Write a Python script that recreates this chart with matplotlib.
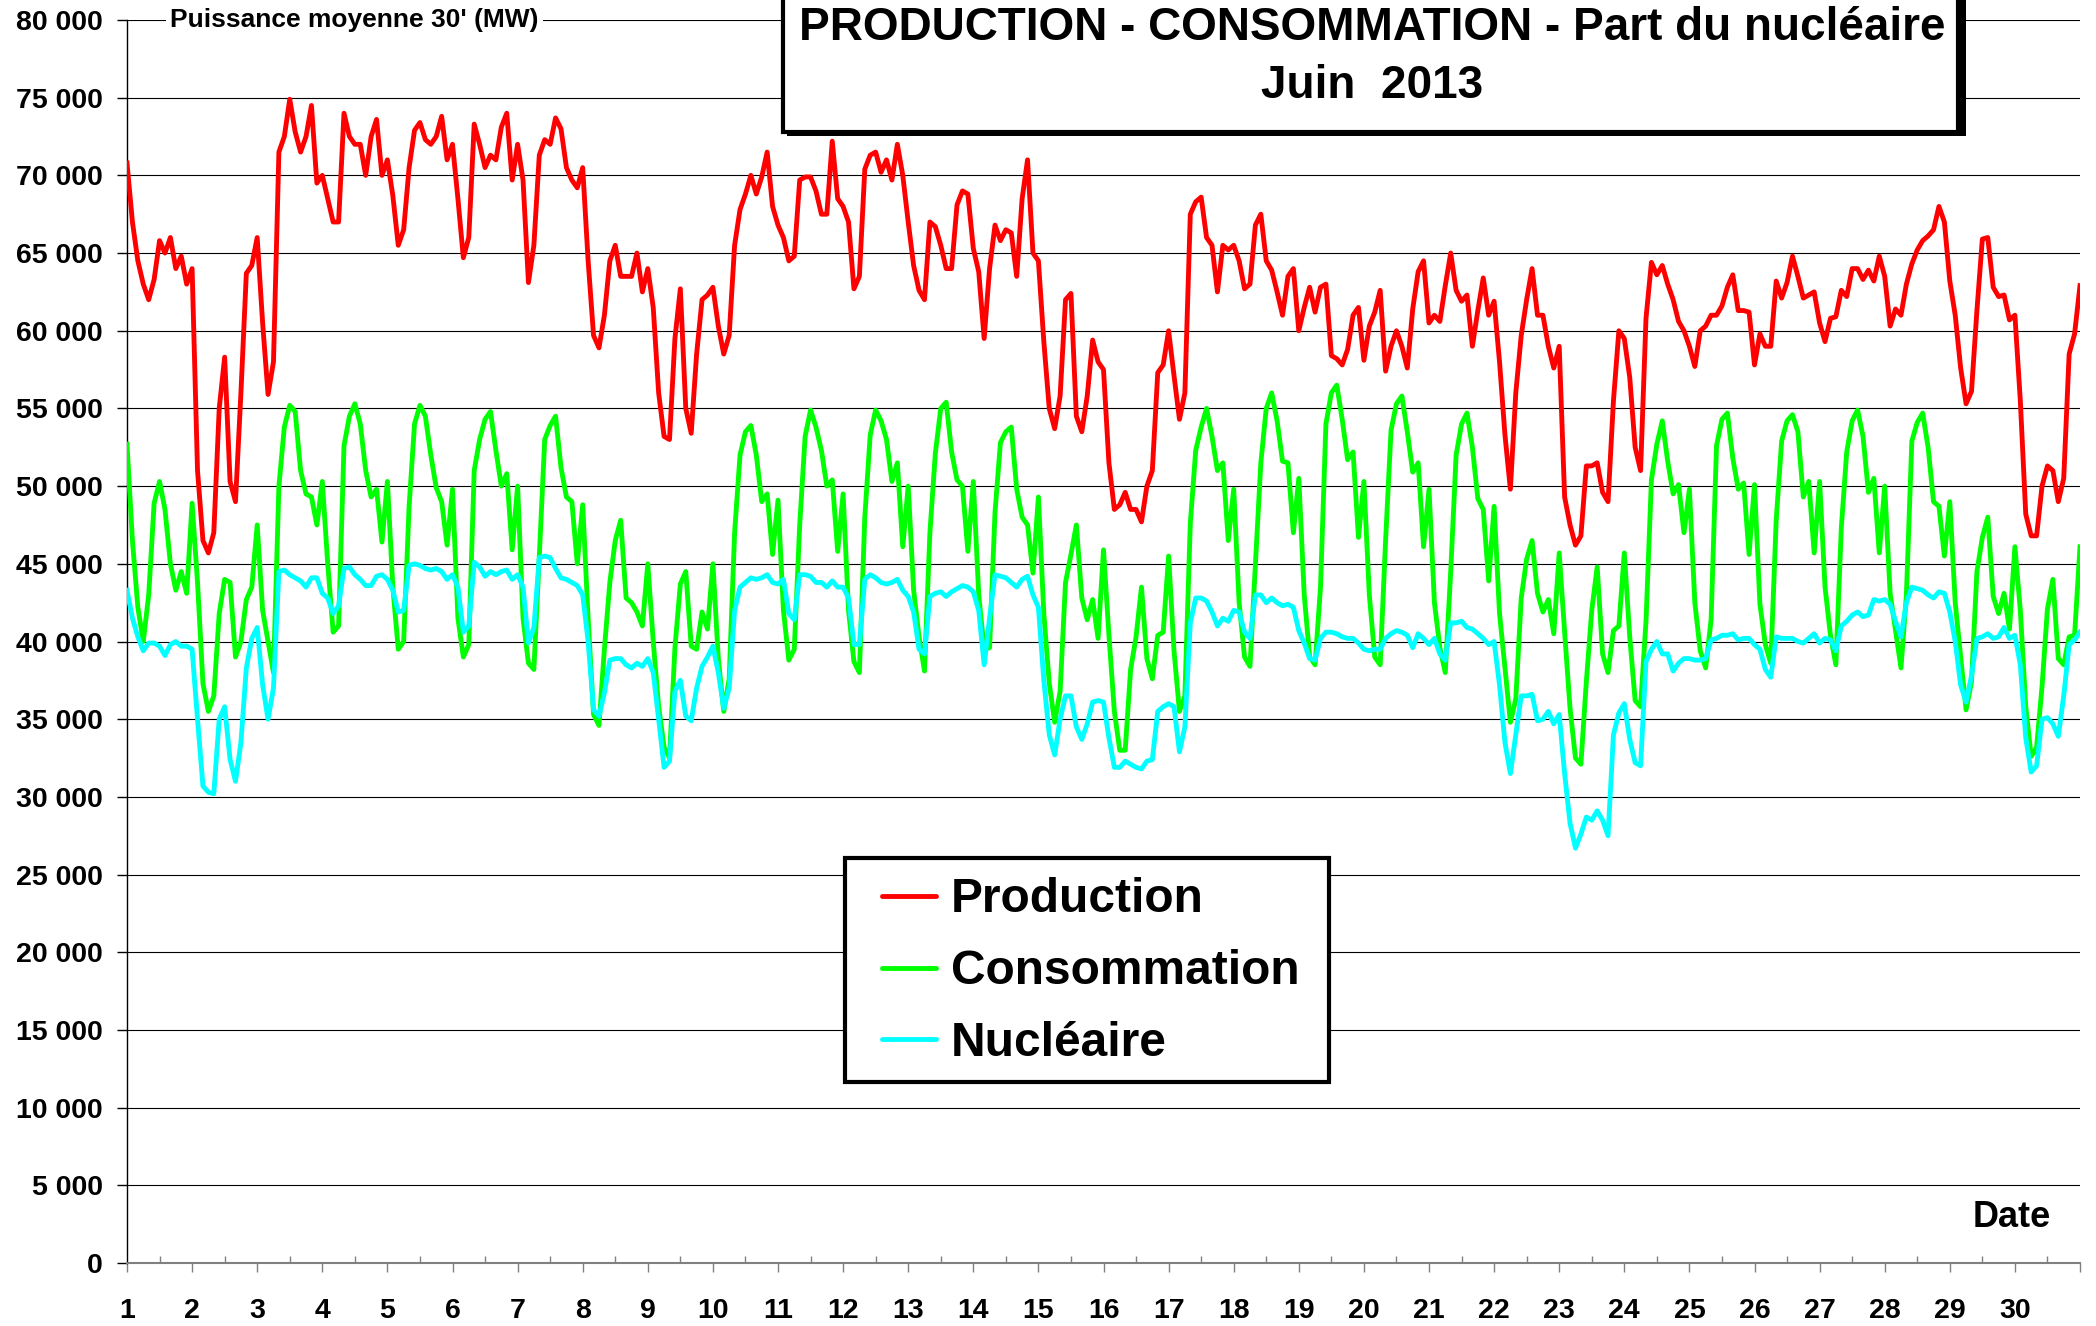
import matplotlib
matplotlib.use('Agg')
import matplotlib.pyplot as plt
from matplotlib.ticker import FuncFormatter, MultipleLocator
from matplotlib.patches import Rectangle
from matplotlib.lines import Line2D
import matplotlib.transforms as mtransforms

plt.rcParams['font.family'] = ['Liberation Sans', 'DejaVu Sans']
plt.rcParams['font.weight'] = 'bold'

# June 2013, values read every 2 hours (MW, 30-minute mean power)
days = list(range(1, 31))
hours = [0, 2, 4, 6, 8, 10, 12, 14, 16, 18, 20, 22]

production = [
    70800, 67000, 64500, 63000, 62000, 63300, 65800, 65000, 66000, 64000, 64800, 63000,
    64000, 51000, 46500, 45700, 47000, 55000, 58300, 50300, 49000, 56000, 63700, 64200,
    66000, 60500, 55900, 58000, 71500, 72500, 74900, 72800, 71500, 72500, 74500, 69500,
    70000, 68500, 67000, 67000, 74000, 72500, 72000, 72000, 70000, 72500, 73600, 70000,
    71000, 68700, 65500, 66500, 70500, 72900, 73400, 72300, 72000, 72500, 73800, 71000,
    72000, 68500, 64700, 66000, 73300, 72000, 70500, 71300, 71000, 73100, 74000, 69700,
    72000, 69700, 63100, 65500, 71300, 72300, 72000, 73700, 73000, 70500, 69700, 69200,
    70500, 64500, 59700, 58900, 61000, 64500, 65500, 63500, 63500, 63500, 65000, 62500,
    64000, 61500, 56000, 53200, 53000, 59500, 62700, 55000, 53400, 58500, 62000, 62300,
    62800, 60300, 58500, 59700, 65500, 67800, 68800, 70000, 68800, 69900, 71500, 68000,
    66800, 66000, 64500, 64800, 69700, 69900, 69900, 69000, 67500, 67500, 72200, 68500,
    68000, 67000, 62700, 63500, 70400, 71300, 71500, 70200, 71000, 69700, 72000, 70000,
    67000, 64200, 62600, 62000, 67000, 66700, 65500, 64000, 64000, 68100, 69000, 68800,
    65300, 63800, 59500, 64000, 66800, 65800, 66500, 66300, 63500, 68500, 71000, 65000,
    64500, 59300, 55000, 53700, 55800, 62000, 62400, 54500, 53500, 55800, 59400, 58000,
    57500, 51500, 48500, 48800, 49600, 48500, 48500, 47700, 50000, 51000, 57300, 57800,
    60000, 57100, 54300, 56000, 67500, 68300, 68600, 66000, 65500, 62500, 65500, 65200,
    65500, 64500, 62700, 63000, 66800, 67500, 64500, 63900, 62500, 61000, 63500, 64000,
    60000, 61500, 62800, 61200, 62800, 63000, 58400, 58200, 57800, 58800, 61000, 61500,
    58100, 60300, 61200, 62600, 57400, 59000, 60000, 59000, 57600, 61400, 63800, 64500,
    60500, 61000, 60600, 62900, 65000, 62600, 61900, 62300, 59000, 61300, 63400, 61000,
    61900, 58000, 53300, 49800, 56000, 59700, 62000, 64000, 61000, 61000, 59000, 57600,
    59000, 49300, 47500, 46200, 46800, 51300, 51300, 51500, 49600, 49000, 55500, 60000,
    59500, 57000, 52500, 51000, 60800, 64400, 63600, 64200, 63000, 62000, 60600, 60000,
    59000, 57700, 60000, 60300, 61000, 61000, 61600, 62800, 63600, 61300, 61300, 61200,
    57800, 59800, 59000, 59000, 63200, 62100, 63100, 64800, 63500, 62100, 62300, 62500,
    60500, 59300, 60800, 60900, 62600, 62200, 64000, 64000, 63300, 63900, 63200, 64800,
    63500, 60300, 61400, 61000, 63000, 64300, 65200, 65800, 66100, 66500, 68000, 67000,
    63200, 61000, 57600, 55300, 56100, 61300, 65900, 66000, 62800, 62200, 62300, 60700,
    61000, 55500, 48200, 46800, 46800, 50000, 51300, 51000, 49000, 50500, 58500, 59800,
    62900,
]

consommation = [
    52700, 46500, 42200, 40000, 43000, 48900, 50300, 48500, 45000, 43300, 44500, 43100,
    48900, 43800, 37300, 35500, 36500, 41800, 44000, 43800, 39000, 40000, 42700, 43500,
    47500, 42000, 40000, 38000, 50000, 53800, 55200, 54800, 51000, 49500, 49300, 47500,
    50300, 45000, 40600, 41000, 52600, 54500, 55300, 54000, 51000, 49300, 49800, 46400,
    50300, 43500, 39500, 40000, 48700, 54000, 55200, 54500, 52000, 49900, 49000, 46200,
    49800, 41500, 39000, 39800, 51000, 53000, 54300, 54800, 52300, 50000, 50800, 45900,
    50000, 41500, 38600, 38200, 45500, 53000, 53900, 54500, 51200, 49300, 49000, 45000,
    48800, 41500, 35300, 34600, 39500, 43800, 46500, 47800, 42800, 42500, 41900, 41000,
    45000, 40000, 35800, 33200, 32500, 39600, 43700, 44500, 39700, 39500, 41900, 40800,
    45000, 38900, 35500, 37600, 47000, 52000, 53500, 53900, 52000, 49000, 49500, 45600,
    49100, 42000, 38800, 39500, 47500, 53200, 54900, 53800, 52300, 50000, 50400, 45800,
    49500, 42000, 38700, 38000, 48000, 53300, 54900, 54200, 53000, 50300, 51500, 46100,
    50000, 43300, 40300, 38100, 47000, 52100, 55000, 55400, 52200, 50400, 50000, 45800,
    50300, 43000, 39500, 39600, 48300, 52800, 53500, 53800, 49800, 48000, 47500, 44400,
    49300, 41800, 37300, 34800, 36800, 43800, 45600, 47500, 42800, 41400, 42700, 40200,
    45900, 40400, 35500, 33000, 33000, 38200, 40300, 43500, 38900, 37600, 40400, 40600,
    45500, 39400, 35500, 36500, 47600, 52300, 53800, 55000, 53200, 51000, 51500, 46500,
    49800, 42500, 39000, 38400, 45000, 51500, 55000, 56000, 54200, 51600, 51500, 47000,
    50500, 43000, 39000, 38500, 43500, 54000, 56000, 56500, 54300, 51700, 52200, 46700,
    50300, 43000, 39000, 38500, 46500, 53600, 55300, 55800, 53500, 50900, 51500, 46100,
    49800, 42500, 39600, 38000, 44500, 52000, 54000, 54700, 52500, 49200, 48500, 43900,
    48700, 41800, 38300, 34800, 36300, 42800, 45300, 46500, 43100, 41900, 42700, 40500,
    45700, 40600, 35700, 32500, 32100, 37400, 42000, 44800, 39200, 38000, 40700, 41000,
    45700, 40300, 36200, 35800, 41300, 50400, 52700, 54200, 51600, 49500, 50100, 47000,
    49800, 42500, 39400, 38300, 41400, 52600, 54300, 54700, 51800, 49800, 50200, 45600,
    50100, 42400, 39800, 38600, 47800, 52900, 54200, 54600, 53500, 49300, 50300, 45700,
    50300, 43500, 40400, 38500, 47300, 52200, 54200, 54900, 53200, 49600, 50500, 45700,
    50000, 43100, 40700, 38300, 43000, 52900, 54100, 54700, 52500, 49000, 48700, 45500,
    49000, 42500, 39000, 35600, 37400, 44500, 46700, 48000, 42900, 41800, 43100, 40800,
    46100, 42000, 35800, 32600, 33200, 37100, 42100, 44000, 38900, 38500, 40300, 40400,
    46100,
]

nucleaire = [
    43300, 41500, 40300, 39400, 39900, 39900, 39700, 39100, 39800, 40000, 39700, 39700,
    39500, 35000, 30700, 30300, 30200, 35000, 35800, 32400, 31000, 33500, 38300, 40200,
    40900, 37200, 35000, 37000, 44500, 44600, 44300, 44100, 43900, 43500, 44100, 44100,
    43100, 42800, 41800, 42300, 44700, 44800, 44300, 44000, 43600, 43600, 44200, 44300,
    44000, 43300, 41900, 42000, 44900, 45000, 44900, 44700, 44600, 44700, 44500, 44000,
    44300, 43500, 40600, 41000, 45100, 44800, 44200, 44500, 44300, 44500, 44600, 44000,
    44300, 43500, 39900, 40900, 45400, 45500, 45400, 44700, 44100, 44000, 43800, 43600,
    43000, 40000, 35600, 35200, 36700, 38800, 38900, 38900, 38500, 38300, 38600, 38400,
    38900, 38000, 35000, 31900, 32300, 36800, 37500, 35200, 34900, 37000, 38400, 39000,
    39700, 38000, 35700, 37000, 42000, 43500, 43800, 44100, 44000, 44100, 44300, 43800,
    43700, 44000, 41800, 41400, 44300, 44300, 44200, 43800, 43800, 43500, 43900, 43500,
    43500, 42800, 39800, 39800, 44000, 44300, 44100, 43800, 43700, 43800, 44000, 43300,
    42900, 41900, 39500, 39200, 42900, 43100, 43200, 42900, 43200, 43400, 43600, 43500,
    43200, 42000, 38500, 41500, 44300, 44200, 44100, 43800, 43500, 44000, 44200, 43000,
    42200, 37500, 34000, 32700, 35000, 36500, 36500, 34500, 33700, 34700, 36100, 36200,
    36100, 33800, 31900, 31900, 32300, 32100, 31900, 31800, 32300, 32400, 35500, 35800,
    36000, 35800, 32900, 34500, 41200, 42800, 42800, 42600, 41900, 41000, 41500, 41300,
    42000, 41900, 40600, 40200, 43000, 43000, 42500, 42800, 42500, 42300, 42400, 42200,
    40700, 39900, 38900, 38800, 40200, 40600, 40600, 40500, 40300, 40200, 40200, 39900,
    39500, 39400, 39500, 39500, 40200, 40500, 40700, 40600, 40400, 39600, 40500, 40200,
    39800, 40200, 39200, 38800, 41200, 41200, 41300, 40900, 40800, 40500, 40200, 39800,
    40000, 37200, 33500, 31500, 34000, 36500, 36500, 36600, 34900, 35000, 35500, 34700,
    35300, 31500, 28300, 26700, 27600, 28700, 28500, 29100, 28500, 27500, 34000, 35400,
    36000, 33700, 32200, 32000, 38700, 39500, 40000, 39200, 39200, 38100, 38600, 38900,
    38900, 38800, 38800, 38900, 40100, 40200, 40400, 40400, 40500, 40100, 40200, 40200,
    39800, 39500, 38200, 37700, 40300, 40200, 40200, 40200, 40000, 39900, 40200, 40500,
    39900, 40200, 40100, 39400, 41000, 41300, 41700, 41900, 41600, 41700, 42700, 42600,
    42700, 42400, 41300, 40300, 42500, 43500, 43400, 43300, 43000, 42800, 43200, 43100,
    41900, 40000, 37200, 36100, 37800, 40200, 40300, 40500, 40200, 40300, 40900, 40200,
    40400, 38500, 33800, 31600, 32000, 35000, 35100, 34700, 33900, 36500, 39800, 40100,
    40600,
]

series_names = ['Production', 'Consommation', 'Nucléaire']
series_colors = ['#FF0000', '#00FF00', '#00FFFF']

# time axis in days: day of month + hour fraction, closing at July 1st 00:00 (= 31)
t = [d + h / 24 for d in days for h in hours] + [31]

W, H = 2096, 1326
fig = plt.figure(figsize=(W / 100, H / 100), dpi=100, facecolor='white')
ax = fig.add_axes([127 / W, 63 / H, 1953 / W, 1243 / H])

for values, name, color in zip([production, consommation, nucleaire], series_names, series_colors):
    ax.plot(t, values, color=color, lw=3.5, label=name, zorder=3)

ax.set_xlim(1, 31)
ax.set_ylim(0, 80000)

ax.yaxis.set_major_locator(MultipleLocator(5000))
ax.yaxis.set_major_formatter(FuncFormatter(lambda v, _: f'{int(v):,}'.replace(',', ' ')))
ax.xaxis.set_major_locator(MultipleLocator(1))
ax.xaxis.set_minor_locator(MultipleLocator(0.5))
ax.xaxis.set_major_formatter(FuncFormatter(lambda v, _: str(int(round(v))) if v < 30.5 else ''))

ax.yaxis.grid(True, color='black', lw=0.8)
ax.set_axisbelow(True)

for side in ('top', 'right'):
    ax.spines[side].set_visible(False)
ax.spines['left'].set_color('black')
ax.spines['left'].set_linewidth(1.0)
ax.spines['bottom'].set_color('#808080')
ax.spines['bottom'].set_linewidth(1.5)

ax.tick_params(axis='y', direction='out', length=7.2, width=1, color='black', pad=10,
               labelsize=20.5)
ax.tick_params(axis='x', which='major', direction='out', length=6.5, width=1, color='#808080',
               pad=18.5, labelsize=20.5)
ax.tick_params(axis='x', which='minor', direction='in', length=5, width=1, color='#808080')
for lbl in ax.get_xticklabels() + ax.get_yticklabels():
    lbl.set_fontweight('bold')

# unit label sitting on the top gridline
trans = mtransforms.blended_transform_factory(ax.transAxes, ax.transData)
ax.text(0.022, 80000, "Puissance moyenne 30' (MW)", transform=trans, fontsize=19,
        fontweight='bold', ha='left', va='center',
        bbox=dict(facecolor='white', edgecolor='none', pad=3), zorder=4)

ax.text(0.9652, 0.037, 'Date', transform=ax.transAxes, fontsize=26, fontweight='bold',
        ha='center', va='center')

# title box with shadow
fig.add_artist(Rectangle((787 / W, 1 - 136 / H), 1179 / W, 0.2, transform=fig.transFigure,
                         facecolor='black', edgecolor='none', zorder=5))
fig.add_artist(Rectangle((783 / W, 1 - 132 / H), 1175 / W, 0.2, transform=fig.transFigure,
                         facecolor='white', edgecolor='black', lw=3, zorder=6))
fig.text(1372 / W, 1 - 28 / H, 'PRODUCTION - CONSOMMATION - Part du nucléaire', fontsize=33,
         fontweight='bold', ha='center', va='center', zorder=7)
fig.text(1372 / W, 1 - 86 / H, 'Juin  2013', fontsize=33, fontweight='bold',
         ha='center', va='center', zorder=7)

# legend box drawn in figure pixels
fig.add_artist(Rectangle((845 / W, 1 - 1082 / H), 484 / W, 224 / H, transform=fig.transFigure,
                         facecolor='white', edgecolor='black', lw=3, zorder=6))
for row_y, name, color in zip([896, 968, 1039], series_names, series_colors):
    fig.add_artist(Line2D([882 / W, 936 / W], [1 - row_y / H, 1 - row_y / H],
                          transform=fig.transFigure, color=color, lw=3.5,
                          solid_capstyle='round', zorder=7))
    fig.text(951 / W, 1 - (row_y + 4) / H, name, fontsize=34.5, fontweight='bold',
             ha='left', va='center', zorder=7)

fig.savefig('out.png', dpi=100, facecolor='white')
